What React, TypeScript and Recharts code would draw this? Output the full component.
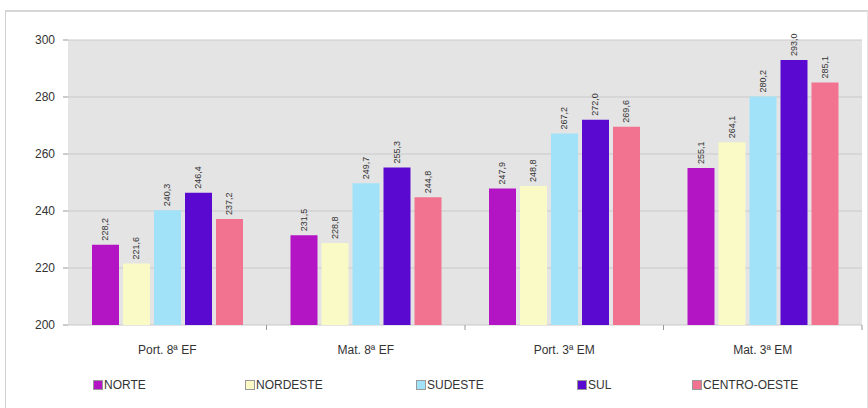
import { BarChart, Bar, XAxis, YAxis, CartesianGrid, LabelList } from "recharts";

const categories = ["Port. 8ª EF", "Mat. 8ª EF", "Port. 3ª EM", "Mat. 3ª EM"];
const regions = ["NORTE", "NORDESTE", "SUDESTE", "SUL", "CENTRO-OESTE"];
const norte = [228.2, 231.5, 247.9, 255.1];
const nordeste = [221.6, 228.8, 248.8, 264.1];
const sudeste = [240.3, 249.7, 267.2, 280.2];
const sul = [246.4, 255.3, 272.0, 293.0];
const centroOeste = [237.2, 244.8, 269.6, 285.1];
const yTicks = [200, 220, 240, 260, 280, 300];

const series = [norte, nordeste, sudeste, sul, centroOeste];
const COLORS = ["#b314c4", "#fafac6", "#a2e2f8", "#5a0ad0", "#f2738f"];
const LEGEND_LEFT = [93, 245, 416, 577, 692];
const FONT = "'Liberation Sans', Arial, sans-serif";

const data = categories.map((name, i) => {
  const row: Record<string, string | number> = { name };
  regions.forEach((r, j) => {
    row[r] = series[j][i];
  });
  return row;
});

const fmt = (v: number) => v.toFixed(1).replace(".", ",");

function BarLabel(props: any) {
  const { x, y, width, value } = props;
  const cx = x + width / 2 + 3;
  const cy = y - 4;
  return (
    <text
      x={cx}
      y={cy}
      transform={`rotate(-90 ${cx} ${cy})`}
      textAnchor="start"
      fontSize={9}
      fill="#333"
      fontFamily={FONT}
    >
      {fmt(Number(value))}
    </text>
  );
}

function CatTick(props: any) {
  const { x, y, payload } = props;
  const half = (862 - 68) / 8;
  return (
    <g>
      <line x1={x + half} y1={y - 8} x2={x + half} y2={y - 3} stroke="#999" />
      <text x={x} y={y + 21} textAnchor="middle" fontSize={12} fill="#333" fontFamily={FONT}>
        {payload.value}
      </text>
    </g>
  );
}

export default function App() {
  return (
    <div style={{ position: "absolute", left: 0, top: 0, width: 868, height: 408, background: "#fff", fontFamily: FONT }}>
      <div
        style={{
          position: "absolute",
          left: 5,
          top: 10,
          width: 861,
          height: 400,
          borderTop: "2px solid #d6d6d6",
          borderLeft: "1px solid #d0d0d0",
          borderRight: "1px solid #e4e4e4",
        }}
      />
      <BarChart
        width={868}
        height={408}
        data={data}
        margin={{ top: 40, right: 6, bottom: 53, left: 0 }}
        barSize={27}
        barGap={4}
        style={{ position: "absolute", left: 0, top: 0 }}
      >
        <CartesianGrid vertical={false} fill="#e4e4e4" stroke="#c9c9c9" />
        <XAxis
          dataKey="name"
          height={30}
          axisLine={false}
          tickLine={false}
          tick={<CatTick />}
          interval={0}
        />
        <YAxis
          domain={[200, 300]}
          ticks={yTicks}
          width={68}
          axisLine={false}
          tickSize={5}
          tickMargin={8}
          tickLine={{ stroke: "#999" }}
          tick={{ fontSize: 12, fill: "#333", fontFamily: FONT }}
        />
        {regions.map((r, j) => (
          <Bar key={r} dataKey={r} fill={COLORS[j]} isAnimationActive={false}>
            <LabelList dataKey={r} content={<BarLabel />} />
          </Bar>
        ))}
      </BarChart>
      {regions.map((r, j) => (
        <div
          key={r}
          style={{
            position: "absolute",
            left: LEGEND_LEFT[j],
            top: 378,
            display: "flex",
            alignItems: "center",
            fontSize: 12,
            color: "#333",
          }}
        >
          <span
            style={{
              display: "inline-block",
              width: 8,
              height: 8,
              background: COLORS[j],
              border: "1px solid #999",
              marginRight: 1,
            }}
          />
          {r}
        </div>
      ))}
    </div>
  );
}
